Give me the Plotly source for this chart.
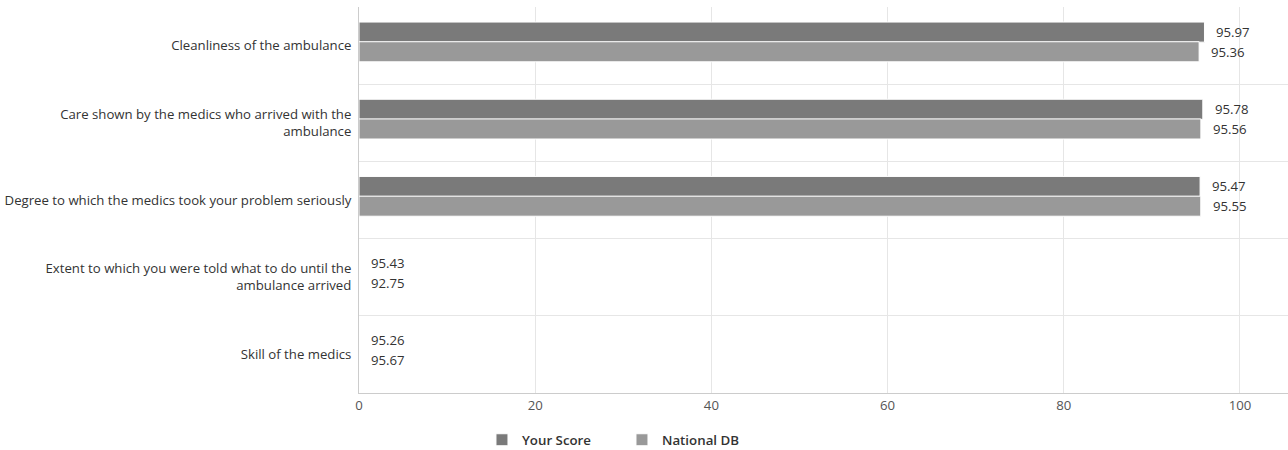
import plotly.graph_objects as go

# Survey items, top to bottom
categories = [
    "Cleanliness of the ambulance",
    "Care shown by the medics who arrived with the<br>ambulance",
    "Degree to which the medics took your problem seriously",
    "Extent to which you were told what to do until the<br>ambulance arrived",
    "Skill of the medics",
]
your_score = [95.97, 95.78, 95.47, 95.43, 95.26]
national_db = [95.36, 95.56, 95.55, 92.75, 95.67]
# bars rendered for each item (the last two show labels only)
bar_drawn = [True, True, True, False, False]

series_names = ["Your Score", "National DB"]
series_colors = ["#7a7a7a", "#999999"]

FONT = "Open Sans, Noto Sans, sans-serif"
TEXT = "#333333"
FS = 13.2

fig = go.Figure()

series_values = [your_score, national_db]
offsets = [-0.305, -0.05]
yshifts = [14, -6]

for name, vals, color, off in zip(series_names, series_values, series_colors, offsets):
    fig.add_trace(go.Bar(
        name=name,
        y=[c for c, d in zip(categories, bar_drawn) if d],
        x=[v for v, d in zip(vals, bar_drawn) if d],
        orientation="h",
        marker=dict(color=color, line=dict(color="#ffffff", width=1)),
        offset=off,
        width=0.26,
        hoverinfo="x+y",
    ))

# value labels beside each bar (at the axis origin when no bar is drawn)
annotations = []
for vals, ys in zip(series_values, yshifts):
    for c, v, d in zip(categories, vals, bar_drawn):
        annotations.append(dict(
            x=v if d else 0, y=c, xref="x", yref="y",
            text=f"{v:.2f}", showarrow=False,
            xanchor="left", yanchor="middle",
            xshift=10, yshift=ys,
            font=dict(family=FONT, size=FS, color=TEXT),
        ))

fig.update_layout(
    width=1288, height=450,
    margin=dict(l=359, r=0, t=7, b=57, autoexpand=False),
    paper_bgcolor="#ffffff", plot_bgcolor="#ffffff",
    barmode="overlay",
    font=dict(family=FONT, size=FS, color=TEXT),
    annotations=annotations,
    showlegend=True,
    legend=dict(
        orientation="h", xref="container", yref="container",
        x=0.3742, y=0.022, xanchor="left", yanchor="middle",
        font=dict(family=FONT, size=13.3, color=TEXT, weight=600),
        entrywidth=95, entrywidthmode="pixels",
        itemwidth=30, traceorder="normal",
    ),
    xaxis=dict(
        range=[0, 105.45], tickvals=[0, 20, 40, 60, 80, 100],
        showgrid=True, gridcolor="#e6e6e6", gridwidth=1,
        zeroline=False, showline=True, linecolor="#cccccc",
        tickfont=dict(family=FONT, size=FS, color="#555555"),
        ticks="", fixedrange=True,
    ),
    yaxis=dict(
        type="category", categoryorder="array", categoryarray=categories,
        range=[4.5, -0.5],
        tickson="boundaries", showgrid=True, gridcolor="#e6e6e6",
        showline=True, linecolor="#cccccc", mirror=False,
        ticks="", ticklabelstandoff=4,
        tickfont=dict(family=FONT, size=FS, color=TEXT),
    ),
)

fig.write_html("out.html")
